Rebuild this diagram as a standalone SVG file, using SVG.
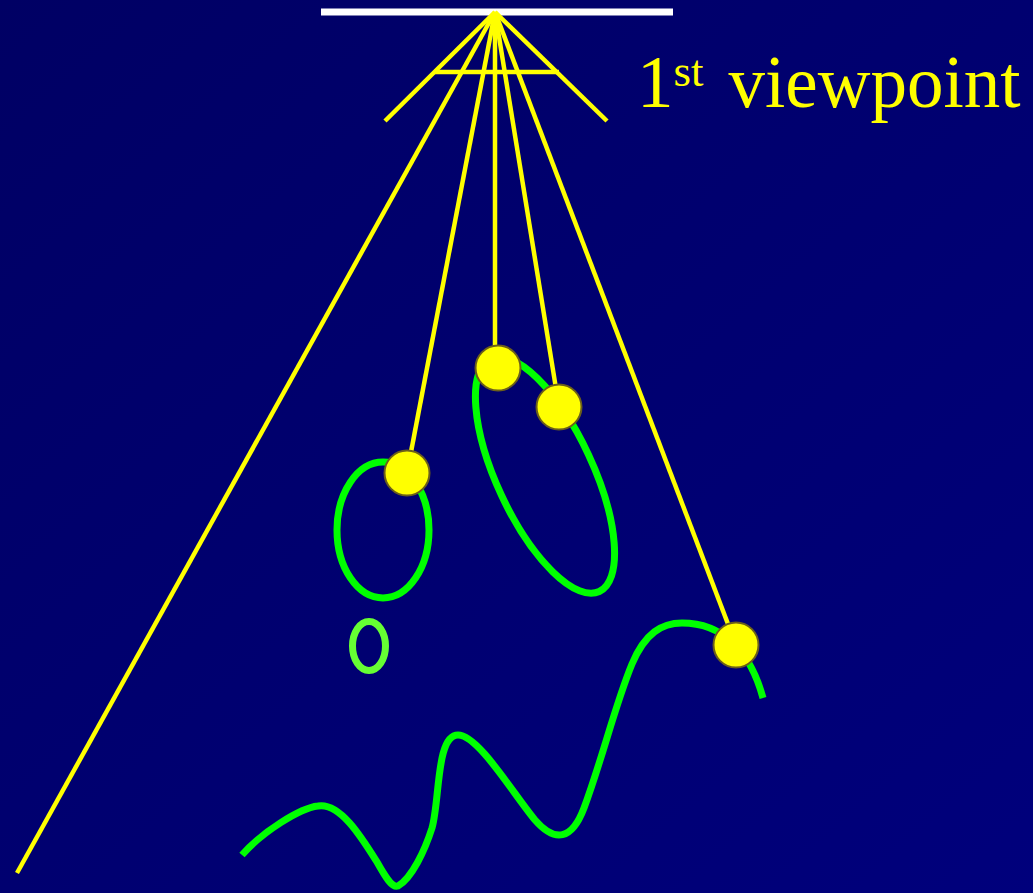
<svg xmlns="http://www.w3.org/2000/svg" width="1033" height="893" viewBox="0 0 1033 893">
<defs>
<linearGradient id="bg" x1="0" y1="0" x2="1" y2="1">
<stop offset="0" stop-color="#000064"/>
<stop offset="1" stop-color="#00007c"/>
</linearGradient>
<style>
.ray{stroke:#ffff00;stroke-width:4.5;stroke-linecap:butt;fill:none}
.dot{fill:#ffff00;stroke:#6b5f1a;stroke-width:2}
.curve{fill:none;stroke:#00ff00;stroke-width:7}
.lbl{font-family:"Liberation Serif",serif;fill:#ffff00}
</style>
</defs>
<rect width="1033" height="893" fill="url(#bg)"/>
<g id="image-plane">
<line x1="321" y1="12" x2="673" y2="12" stroke="#ffffff" stroke-width="7"/>
</g>
<g id="objects">
<ellipse id="ellipse-small" class="curve" cx="383" cy="530" rx="46" ry="68"/>
<ellipse id="ellipse-tilted" class="curve" cx="545" cy="475" rx="128.5" ry="48" transform="rotate(65 545 475)"/>
<ellipse id="ellipse-tiny" cx="369" cy="646" rx="16.5" ry="24.5" fill="none" stroke="#66ff33" stroke-width="7"/>
<path id="wave" class="curve" d="M242,855 C262,832 300,808 318,806 C340,802 362,838 377,862 C386,878 392,888 398,886 C412,878 425,850 432,828 C440,800 436,735 458,735 C478,735 512,792 535,820 C555,843 572,840 584,808 C602,760 615,705 632,664 C645,633 662,623 682,623 C722,623 750,650 763,698"/>
</g>
<g id="connectors">
<line class="ray" x1="495" y1="12" x2="385" y2="121"/>
<line class="ray" x1="495" y1="12" x2="607" y2="121"/>
<line class="ray" x1="434" y1="72" x2="559" y2="72"/>
<line class="ray" x1="495" y1="12" x2="17" y2="873"/>
<line class="ray" x1="495" y1="12" x2="407" y2="473"/>
<line class="ray" x1="495" y1="12" x2="495" y2="368"/>
<line class="ray" x1="495" y1="12" x2="559" y2="407"/>
<line class="ray" x1="495" y1="12" x2="736" y2="645"/>
</g>
<g id="points">
<circle class="dot" cx="498" cy="368" r="22.5"/>
<circle class="dot" cx="559" cy="407" r="22.5"/>
<circle class="dot" cx="407" cy="473" r="22.5"/>
<circle class="dot" cx="736" cy="645" r="22.5"/>
</g>
<g id="label">
<text class="lbl" x="637" y="107" font-size="73">1<tspan font-size="45" dy="-21">st</tspan><tspan dy="21" dx="25">viewpoint</tspan></text>
</g>
</svg>
